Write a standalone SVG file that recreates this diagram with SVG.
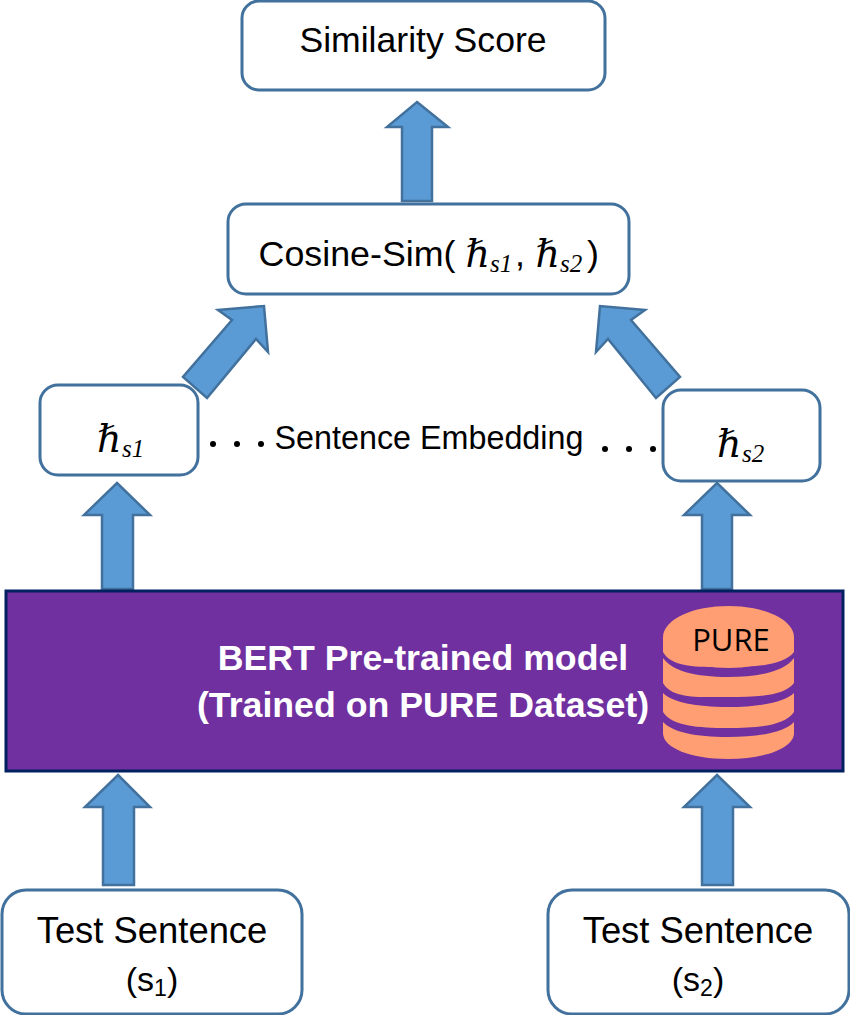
<svg xmlns="http://www.w3.org/2000/svg" width="850" height="1015" viewBox="0 0 850 1015">
<style>
.box{fill:#fff;stroke:#41719c;stroke-width:3}
.arrow{fill:#5b9bd5;stroke:#41719c;stroke-width:2.500;stroke-linejoin:miter}
.t{font-family:"Liberation Sans",Arial,sans-serif;fill:#000;text-anchor:middle}
.h{font-family:"DejaVu Serif",serif;font-style:italic;fill:#000;font-size:38px}
.sub{font-family:"Liberation Serif",serif;font-style:italic;fill:#000;font-size:25px}
.w{font-family:"Liberation Sans",Arial,sans-serif;font-weight:bold;fill:#fff;text-anchor:middle;font-size:35.700px}
.dot{fill:#000}
</style>
<rect width="850" height="1015" fill="#fff"/>
<g id="connectors">
<path class="arrow" d="M417 102L448 127H432V201H402V127H387Z"/>
<path class="arrow" d="M264 306L268 352L256 339L207 398L183 377L232 320L218 310Z"/>
<path class="arrow" d="M600 306L596 352L608 339L656 398L680 377L631 320L645 310Z"/>
<path class="arrow" d="M117 483L150 515H133V589H102V515H84Z"/>
<path class="arrow" d="M717 483L750 515H732V589H702V515H684Z"/>
<path class="arrow" d="M118 775L150 807H134V885H103V807H85Z"/>
<path class="arrow" d="M717 775L750 807H733V885H702V807H684Z"/>
</g>
<g id="similarity-score">
<rect class="box" x="242" y="1" width="363" height="89" rx="17"/>
<text class="t" x="423" y="52" font-size="35.600">Similarity Score</text>
</g>
<g id="cosine-sim">
<rect class="box" x="228" y="204" width="401" height="90" rx="18"/>
<text class="t" x="357" y="266" font-size="35.800">Cosine-Sim(</text>
<text class="h" x="465.500" y="267">ℏ</text>
<text class="sub" x="490" y="272">s1</text>
<text class="t" x="520" y="266" font-size="35.800">,</text>
<text class="h" x="535.500" y="267">ℏ</text>
<text class="sub" x="560" y="272">s2</text>
<text class="t" x="593" y="266" font-size="35.800">)</text>
</g>
<g id="embedding-s1">
<rect class="box" x="40" y="385" width="158" height="90" rx="18"/>
<text class="h" x="97" y="452">ℏ</text>
<text class="sub" x="122" y="457">s1</text>
</g>
<g id="sentence-embedding">
<circle class="dot" cx="213" cy="444" r="3"/><circle class="dot" cx="237" cy="444" r="3"/><circle class="dot" cx="261" cy="444" r="3"/>
<text class="t" x="429" y="449" font-size="32.300">Sentence Embedding</text>
<circle class="dot" cx="605" cy="449" r="3"/><circle class="dot" cx="629" cy="449" r="3"/><circle class="dot" cx="653" cy="449" r="3"/>
</g>
<g id="embedding-s2">
<rect class="box" x="663" y="390" width="157" height="91" rx="18"/>
<text class="h" x="717" y="457">ℏ</text>
<text class="sub" x="742" y="462">s2</text>
</g>
<g id="bert-model">
<rect x="6" y="591" width="837" height="180" fill="#7030a0" stroke="#002060" stroke-width="3"/>
<text class="w" x="423" y="670">BERT Pre-trained model</text>
<text class="w" x="423" y="717">(Trained on PURE Dataset)</text>
</g>
<g id="pure-dataset">
<path fill="#ff9e73" d="M663 637H794V733C794 748 765 759 728 759S663 748 663 733Z"/>
<path fill="#7030a0" d="M663 652C672 668 698 667 728 667S784 665 794 652V658C785 671 760 677 728 677S672 671 663 658Z"/>
<path fill="#7030a0" d="M663 683C672 699 698 697 728 697S784 696 794 683V693C785 702 760 707 728 707S672 702 663 693Z"/>
<path fill="#7030a0" d="M663 712C672 726 698 728 728 728S784 726 794 712V722C785 732 760 737 728 737S672 732 663 722Z"/>
<ellipse cx="728.500" cy="637" rx="65.500" ry="31" fill="#ff9e73"/>
<text x="731" y="651" font-family="'Open Sans','Noto Sans',sans-serif" font-size="31" text-anchor="middle" fill="#000">PURE</text>
</g>
<g id="test-s1">
<rect class="box" x="2" y="890" width="300" height="124" rx="24"/>
<text class="t" x="152" y="943" font-size="36.400">Test Sentence</text>
<text class="t" x="152" y="991" font-size="34">(s<tspan font-size="23" dy="5">1</tspan><tspan dy="-5">)</tspan></text>
</g>
<g id="test-s2">
<rect class="box" x="548" y="890" width="301" height="124" rx="24"/>
<text class="t" x="698" y="943" font-size="36.400">Test Sentence</text>
<text class="t" x="698" y="991" font-size="34">(s<tspan font-size="23" dy="5">2</tspan><tspan dy="-5">)</tspan></text>
</g>
</svg>
